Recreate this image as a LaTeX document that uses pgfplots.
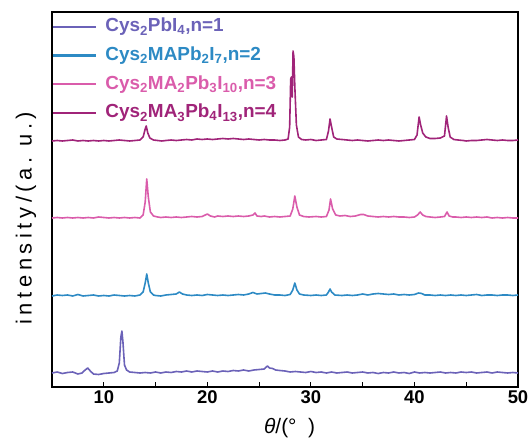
\documentclass[border=0pt]{standalone}
\usepackage{fontspec}
\setmainfont{Liberation Sans}
\usepackage{pgfplots}
\pgfplotsset{compat=1.18}
\definecolor{cone}{HTML}{6B62B8}
\definecolor{ctwo}{HTML}{2D8AC4}
\definecolor{cthree}{HTML}{DA5CAB}
\definecolor{cfour}{HTML}{A02479}
\begin{document}
\begin{tikzpicture}
\begin{axis}[
  width=466bp, height=375bp, scale only axis,
  xmin=5, xmax=50, ymin=0, ymax=375,
  axis line style={line width=1.5bp},
  xtick={10,20,30,40,50},
  minor xtick={15,25,35,45},
  xtick pos=bottom, ytick=\empty,
  tick align=inside,
  major tick length=5bp, minor tick length=5bp,
  every tick/.style={black, line width=1.2bp},
  /pgf/number format/assume math mode=true,
  xticklabel style={font=\bfseries\fontsize{18.5}{18.5}\selectfont},
  xlabel={\textit{θ}/(°\ \ )},
  xlabel style={at={(axis description cs:0.51,-0.11)}, anchor=center, font=\fontsize{21}{21}\selectfont},
  ylabel={\addfontfeature{LetterSpace=21}intensity/(a.\ u.)},
  ylabel style={at={(axis description cs:-0.056,0.45)}, anchor=center, font=\fontsize{22}{22}\selectfont},
  legend style={at={(0,1)}, anchor=north west, draw=none, fill=none,
    font=\bfseries\fontsize{19}{19}\selectfont, row sep=9.7bp, inner xsep=0bp, inner ysep=5.5bp,
    nodes={inner sep=0bp, text height=14bp, text depth=5bp}},
  legend cell align=left,
  legend image code/.code={\draw[#1, line width=2.2bp] (0bp,0.3bp) -- (43bp,0.3bp);},
  every axis plot/.append style={line width=1.6bp, line join=round},
]
\addplot[cone] coordinates {
(5,14) (5.5,15) (6,13.5) (6.5,14.5) (7,15) (7.5,13) (7.9,14) (8.2,17) (8.45,19) (8.7,16) (9.0,13) (9.5,12.5) (10,13.5) (10.5,14) (11,14.5) (11.3,16) (11.5,24) (11.65,50) (11.75,56) (11.85,45) (12.0,22) (12.2,17) (12.5,15) (13,14.5) (13.5,14) (14,14.5) (14.5,14) (15,15) (15.5,14) (16,15) (16.5,14.5) (17,15.5) (17.5,15) (18,16) (18.5,15) (19,16) (19.5,15.5) (20,15) (20.5,16) (21,15) (21.5,16) (22,15.5) (22.5,16.5) (23,16) (23.5,17) (24,16) (24.5,17) (25,17.5) (25.5,18) (25.8,21) (26.0,19) (26.3,18.5) (26.6,17) (27,16.5) (27.5,16) (28,15) (28.5,15.5) (29,15) (29.5,14.5) (30,15.5) (30.5,14.5) (31,15) (31.5,14) (32,15) (32.5,14) (33,14.5) (33.5,15) (34,14) (34.5,14.5) (35,15) (35.5,14) (36,14.5) (36.5,13.5) (37,14.5) (37.5,14) (38,15) (38.5,14) (39,14.5) (39.5,13.5) (40,15) (40.5,14) (41,14.5) (41.5,14) (42,14.5) (42.5,15) (43,14) (43.5,14.5) (44,14) (44.5,15) (45,14.5) (45.5,15) (46,14) (46.5,14.5) (47,15) (47.5,14) (48,15) (48.5,14.5) (49,14) (49.5,14.5) (50,14)
};
\addlegendentry{\hspace{8bp}\textcolor{cone}{Cys\textsubscript{2}PbI\textsubscript{4},n=1}}
\addplot[ctwo] coordinates {
(5,91) (5.5,92) (6,91.5) (6.5,92) (7,91) (7.5,92.5) (8,91) (8.5,91.5) (9,92) (9.5,91) (10,91.5) (10.5,91) (11,92) (11.5,91.5) (12,91) (12.5,91.5) (13,91) (13.5,92) (13.8,95) (14.0,104) (14.15,113) (14.3,104) (14.5,95) (14.8,92) (15,91.5) (15.5,91) (16,92) (16.5,92.5) (17,93) (17.3,95) (17.6,93) (18,92) (18.5,91.5) (19,92) (19.5,91.5) (20,92.5) (20.5,92) (21,91.5) (21.5,92) (22,91.5) (22.5,92) (23,92.5) (23.5,92) (24,93) (24.4,94.5) (24.8,93) (25.2,93.5) (25.6,94) (26,93) (26.5,92) (27,92) (27.5,91.5) (28,92.5) (28.25,97) (28.45,104) (28.65,97) (28.9,93) (29.3,92) (30,91.5) (30.5,92) (31,91.5) (31.5,92) (31.7,95) (31.85,98) (32,95) (32.3,92) (33,91.5) (33.5,92) (34,91.5) (34.5,92) (35,93) (35.5,92) (36,93) (36.5,93.5) (37,93) (37.5,92.5) (38,93) (38.5,92) (39,92.5) (39.5,92) (40,92.5) (40.4,94) (40.7,93.5) (41,92) (41.5,92) (42,91.5) (42.5,92) (43,91.5) (43.5,92) (44,91.5) (44.5,92) (45,91.5) (45.5,92) (46,92.5) (46.5,91.5) (47,92) (47.5,92) (48,91.5) (48.5,92) (49,92) (49.5,91.5) (50,92)
};
\addlegendentry{\hspace{8bp}\textcolor{ctwo}{Cys\textsubscript{2}MAPb\textsubscript{2}I\textsubscript{7},n=2}}
\addplot[cthree] coordinates {
(5,169) (5.5,169.5) (6,169) (6.5,169.5) (7,169) (7.5,169.5) (8,169) (8.5,169.5) (9,169) (9.5,170) (10,169.5) (10.5,169) (11,169.5) (11.5,169) (12,169.5) (12.5,169) (13,169.5) (13.5,169) (13.8,172) (14.0,185) (14.15,208) (14.3,190) (14.5,175) (14.8,171) (15.2,170) (15.5,169.5) (16,170) (16.5,169.5) (17,170) (17.5,169.5) (18,170) (18.5,170.5) (19,170) (19.5,170.5) (20.0,173) (20.3,171) (20.7,170) (21,171) (21.5,170.5) (22,171) (22.5,170.5) (23,171) (23.5,170.5) (24,171) (24.4,172) (24.6,174) (24.8,171) (25.2,170.5) (25.5,171) (26,170) (26.5,170.5) (27,170) (27.5,170.5) (28,171) (28.25,178) (28.45,191) (28.65,180) (28.9,172) (29.3,170.5) (29.8,170) (30.5,170.5) (31,170) (31.5,170.5) (31.75,177) (31.9,188) (32.1,178) (32.4,172) (32.8,171) (33.3,171.5) (33.8,170.5) (34.3,171) (34.8,172.5) (35.1,172.5) (35.5,171) (36,170.5) (36.5,170) (37,170.5) (37.5,170) (38,170.5) (38.5,170) (39,170) (39.5,169.5) (40,170) (40.3,172) (40.55,175) (40.8,172) (41.1,170.5) (41.5,170) (42,169.5) (42.5,170) (42.9,170.5) (43.15,175) (43.35,171) (43.7,170) (44,170) (44.5,169.5) (45,170) (45.5,169.5) (46,170) (46.5,169.5) (47,170) (47.5,169) (48,169.5) (48.5,169) (49,169.5) (49.5,169) (50,169)
};
\addlegendentry{\hspace{8bp}\textcolor{cthree}{Cys\textsubscript{2}MA\textsubscript{2}Pb\textsubscript{3}I\textsubscript{10},n=3}}
\addplot[cfour] coordinates {
(5,246) (5.5,246.5) (6,246) (6.5,246.5) (7,247) (7.5,246) (8,246.5) (8.5,246) (9,246.5) (9.5,246) (10,246.5) (10.5,246) (11,246.5) (11.5,247) (12,246.5) (12.5,246) (13,246.5) (13.5,247) (13.8,250) (14.0,258) (14.1,261) (14.25,254) (14.45,249) (14.8,247) (15.2,246.5) (15.6,246) (16,246.5) (16.5,247) (17,246.5) (17.5,247) (18,247.5) (18.5,247) (19,248) (19.5,247.5) (20,248) (20.5,247.5) (21,248) (21.5,248.5) (22,248) (22.5,248.5) (23,248) (23.5,247.5) (24,248) (24.5,247.5) (25,247) (25.5,247.5) (26,247) (26.5,247) (27,246.5) (27.5,247) (27.8,248) (27.95,260) (28.05,308) (28.12,310) (28.2,290) (28.28,336) (28.36,330) (28.45,300) (28.6,262) (28.8,250) (29.1,247.5) (29.5,247) (30,247.5) (30.5,246.5) (31,247) (31.5,247.5) (31.7,256) (31.85,268) (32.0,260) (32.2,250) (32.5,248) (33,247.5) (33.5,247) (34,246.5) (34.5,247) (35,246.5) (35.5,246) (36,246.5) (36.5,247) (37,246.5) (37.5,247) (38,246.5) (38.5,246) (39,246.5) (39.5,247) (40,247.5) (40.25,252) (40.45,270) (40.6,262) (40.8,254) (41.1,250) (41.5,248.5) (42,248.5) (42.5,249) (42.9,251) (43.1,271) (43.25,260) (43.45,250) (43.8,247.5) (44.2,247) (44.7,246.5) (45,246) (45.5,246.5) (46,246.5) (46.5,247) (47,247.5) (47.5,247) (48,246.5) (48.5,247) (49,246.5) (49.5,246.5) (50,247)
};
\addlegendentry{\hspace{8bp}\textcolor{cfour}{Cys\textsubscript{2}MA\textsubscript{3}Pb\textsubscript{4}I\textsubscript{13},n=4}}
\end{axis}
\path ([xshift=-52bp,yshift=-57bp]current axis.south west) rectangle ([xshift=14bp,yshift=12bp]current axis.north east);
\end{tikzpicture}
\end{document}
